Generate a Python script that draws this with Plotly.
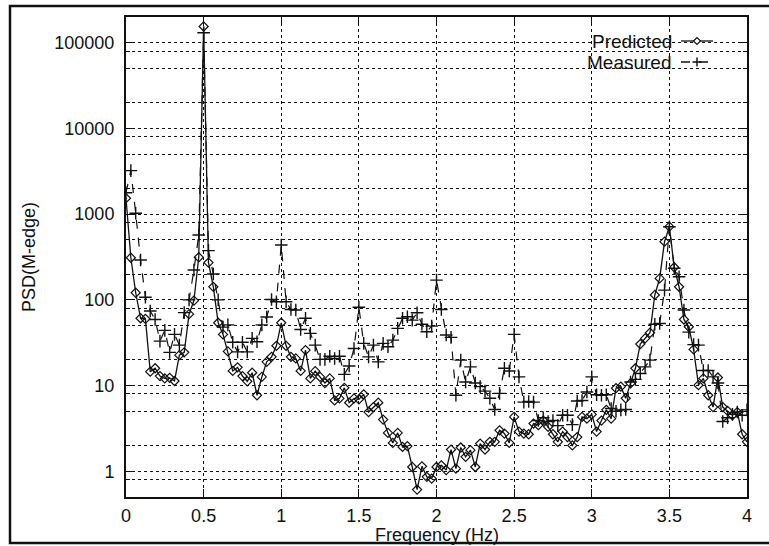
import plotly.graph_objects as go

# Frequency grid: 1/32 Hz resolution from 0 to 4 Hz
freq_step = 1 / 32
n_points = 129
frequency = [i * freq_step for i in range(n_points)]

predicted = [
    1535, 310, 121, 61, 60, 14.5, 15.9, 12.9, 12.1, 12.3,
    11.3, 22.6, 24.4, 68, 98, 314, 155000, 272, 142, 54,
    39.5, 25, 14.8, 16.3, 12.9, 11.2, 14.1, 7.7, 12.6, 18.9,
    21.6, 29.1, 54, 29.1, 21.6, 20.7, 14.8, 25.9, 12.1, 14.7,
    12.6, 10.7, 12.1, 6.7, 7.07, 9.4, 6.3, 7.07, 6.9, 7.9,
    4.9, 5.6, 6.3, 4.0, 2.8, 2.14, 2.8, 1.92, 1.96, 1.12,
    0.61, 1.14, 0.86, 0.82, 1.12, 1.17, 1.03, 1.79, 1.07, 1.89,
    1.47, 1.76, 1.12, 2.1, 1.79, 2.2, 2.2, 3.0, 2.75, 2.14,
    4.3, 2.9, 2.75, 2.7, 3.6, 3.45, 3.9, 3.3, 2.7, 2.2,
    2.9, 2.5, 2.0, 2.5, 4.3, 4.1, 4.6, 2.9, 3.9, 5.2,
    4.1, 9.3, 9.7, 7.1, 10.6, 15.9, 30.5, 35.5, 41.3, 114,
    178, 477, 714, 240, 142, 59, 48.5, 26.4, 10.1, 12.1,
    7.7, 5.6, 12.4, 5.6, 5.07, 4.5, 4.9, 2.7, 2.2,
]

measured = [
    1780, 3220, 1025, 292, 107, 74, 59, 33, 44, 24.4,
    39.5, 29.6, 71, 100, 223, 571, 131000, 375, 200, 100,
    48, 51, 32, 24.7, 32, 24.7, 35.5, 32.4, 51, 63,
    101, 95, 437, 95, 77, 76, 45, 61, 40.6, 29.6,
    20.2, 20.2, 22, 20.7, 22, 13.5, 16.9, 27.1, 82, 31,
    21.6, 29.6, 18.9, 31, 28.3, 33.9, 46.5, 61, 63.5, 58,
    70.8, 52, 42.4, 49.4, 170, 77, 38.8, 36.5, 7.7, 19.8,
    11.0, 16.5, 10.7, 9.7, 8.6, 7.1, 5.25, 8.1, 15.9, 14.8,
    39.5, 12.6, 6.4, 6.5, 6.4, 3.9, 4.2, 3.8, 3.9, 3.4,
    4.5, 4.5, 3.5, 6.6, 6.7, 8.4, 12.6, 7.8, 7.7, 7.8,
    5.4, 5.0, 5.2, 5.25, 11, 11.8, 13.8, 16.5, 19.8, 52,
    53, 130, 714, 234, 186, 76, 42, 30, 29.6, 15,
    15, 12.6, 10.7, 3.8, 4.2, 4.6, 4.9, 4.5, 5.2,
]

x_ticks = [0, 0.5, 1, 1.5, 2, 2.5, 3, 3.5, 4]
x_tick_labels = ["0", "0.5", "1", "1.5", "2", "2.5", "3", "3.5", "4"]
y_ticks = [1, 10, 100, 1000, 10000, 100000]
y_tick_labels = ["1", "10", "100", "1000", "10000", "100000"]
y_minor = [m * 10 ** e for e in range(-1, 5) for m in (2, 5, 8)][2:]

FONT = "Liberation Sans, Arial, Helvetica, sans-serif"
INK = "#111111"

fig = go.Figure()
fig.add_trace(go.Scatter(
    x=frequency, y=predicted, name="Predicted", mode="lines+markers",
    line=dict(color=INK, width=1.3),
    marker=dict(symbol="diamond-open", size=7, color=INK, line=dict(width=1.2)),
    showlegend=False,
))
fig.add_trace(go.Scatter(
    x=frequency, y=measured, name="Measured", mode="lines+markers",
    line=dict(color=INK, width=1.2, dash="dash"),
    marker=dict(symbol="cross-thin-open", size=9, color=INK, line=dict(width=1.4, color=INK)),
    showlegend=False,
))

# plot-area geometry in pixels
L, R, T, B, W, H = 126, 747, 17, 497, 769, 546
pw, ph = R - L, B - T


def px(x):
    return (x - L) / pw


def py(y):
    return (B - y) / ph


shapes = []
# outer frame around the whole figure
shapes.append(dict(type="rect", xref="paper", yref="paper",
                   x0=px(10), x1=px(772), y0=py(543), y1=py(6),
                   line=dict(color=INK, width=2.5), layer="above"))

annotations = []
# axis titles
annotations.append(dict(text="Frequency (Hz)", xref="paper", yref="paper",
                        x=px(436.5), y=py(535), xanchor="center", yanchor="middle",
                        showarrow=False, font=dict(family=FONT, size=18, color=INK)))
annotations.append(dict(text="PSD(M-edge)", xref="paper", yref="paper",
                        x=px(29), y=py(257), xanchor="center", yanchor="middle",
                        textangle=-90, showarrow=False,
                        font=dict(family=FONT, size=18, color=INK)))

# legend key: label on the left, line sample with marker on the right
legend_rows = [("Predicted", 41, "solid", "diamond"), ("Measured", 62, "dash", "plus")]
for label, ypix, dash, mark in legend_rows:
    annotations.append(dict(text=label, xref="paper", yref="paper", x=px(674), y=py(ypix),
                            xanchor="right", yanchor="middle", showarrow=False,
                            font=dict(family=FONT, size=19, color=INK)))
    shapes.append(dict(type="line", xref="paper", yref="paper",
                       x0=px(681), x1=px(713), y0=py(ypix), y1=py(ypix),
                       line=dict(color=INK, width=1.3, dash=dash)))
    cx, cy = 697, ypix
    if mark == "diamond":
        d = 3.5
        path = (f"M {px(cx - d)} {py(cy)} L {px(cx)} {py(cy - d)} "
                f"L {px(cx + d)} {py(cy)} L {px(cx)} {py(cy + d)} Z")
        shapes.append(dict(type="path", xref="paper", yref="paper", path=path,
                           fillcolor="white", line=dict(color=INK, width=1.2)))
    else:
        d = 4.5
        path = (f"M {px(cx - d)} {py(cy)} L {px(cx + d)} {py(cy)} "
                f"M {px(cx)} {py(cy - d)} L {px(cx)} {py(cy + d)}")
        shapes.append(dict(type="path", xref="paper", yref="paper", path=path,
                           line=dict(color=INK, width=1.4)))

grid = dict(showgrid=True, gridcolor=INK, griddash="dot", gridwidth=1)

fig.update_layout(
    width=W, height=H,
    margin=dict(l=L, r=W - R, t=T, b=H - B, pad=0),
    paper_bgcolor="white", plot_bgcolor="white",
    font=dict(family=FONT, size=18, color=INK),
    shapes=shapes, annotations=annotations,
    xaxis=dict(
        range=[0, 4], tickmode="array", tickvals=x_ticks, ticktext=x_tick_labels,
        ticks="inside", ticklen=8, tickwidth=1.2, tickcolor=INK,
        showline=True, linecolor=INK, linewidth=2, mirror="ticks",
        zeroline=False, ticklabelstandoff=1,
        **grid,
    ),
    yaxis=dict(
        type="log", range=[-0.30103, 5.30103],
        tickmode="array", tickvals=y_ticks, ticktext=y_tick_labels,
        ticks="inside", ticklen=8, tickwidth=1.2, tickcolor=INK,
        showline=True, linecolor=INK, linewidth=2, mirror="ticks",
        zeroline=False, ticklabelstandoff=6,
        minor=dict(tickmode="array", tickvals=y_minor, ticks="inside", ticklen=4,
                   tickcolor=INK, showgrid=True, gridcolor=INK, griddash="dot", gridwidth=1),
        **grid,
    ),
)

fig.write_html("out.html")
